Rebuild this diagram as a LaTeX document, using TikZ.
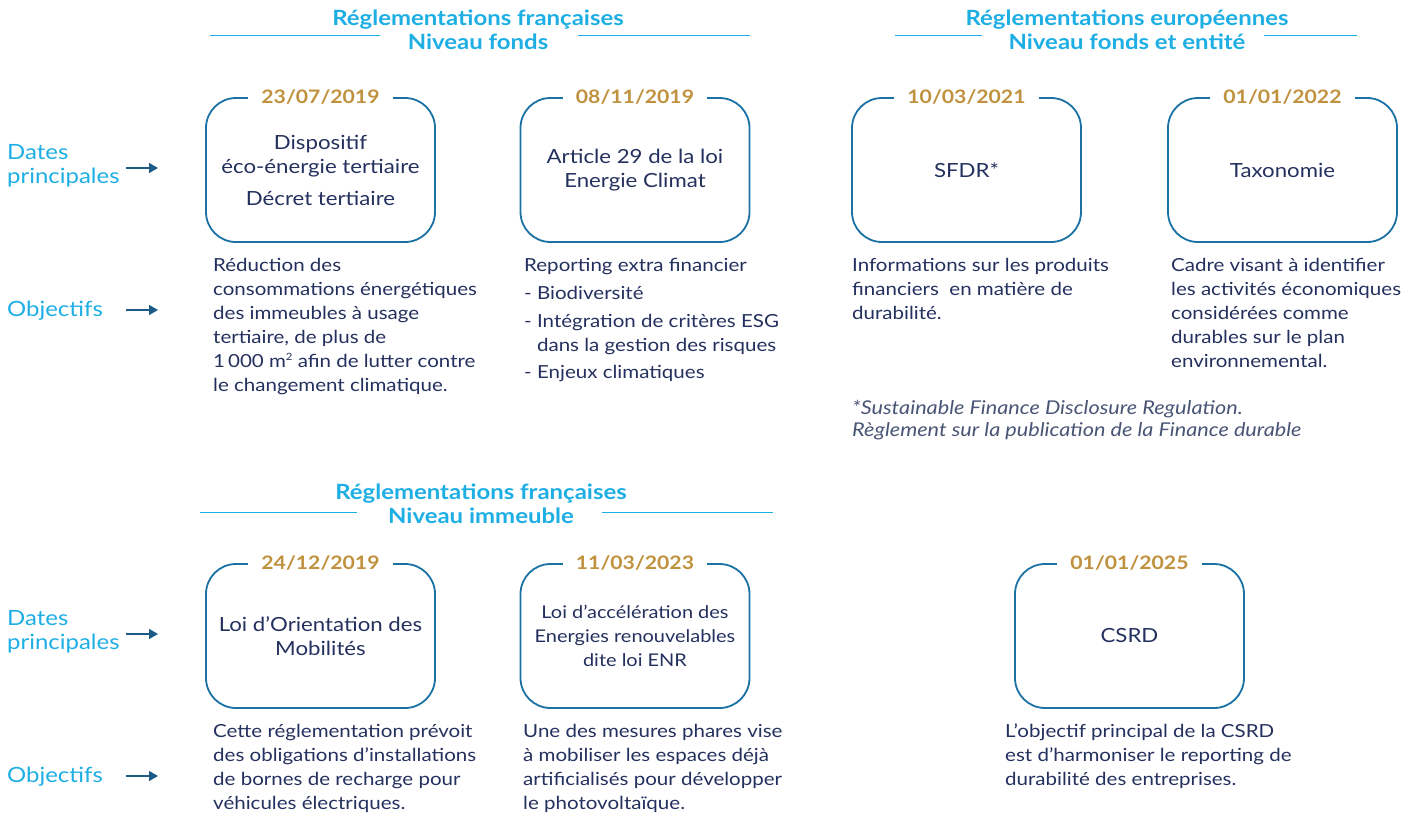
\documentclass[tikz,border=0pt]{standalone}
\usepackage{fontspec}
\setmainfont{Lato}[FakeStretch=1.14]
\usetikzlibrary{positioning,arrows.meta}
\definecolor{hdcyan}{HTML}{1DAEE4}
\definecolor{boxblue}{HTML}{1A72A4}
\definecolor{arrblue}{HTML}{1B5B85}
\definecolor{gold}{HTML}{C0923F}
\definecolor{navy}{HTML}{24305E}
\definecolor{notegray}{HTML}{4A5576}
\newcommand{\sqm}{m\raisebox{7pt}{\fontsize{10}{10}\selectfont 2}}
\tikzset{
  regbox/.style={draw=boxblue, line width=1.8pt, rounded corners=30pt, minimum width=229pt, minimum height=144pt, inner sep=0pt, align=center, text=navy, font=\fontsize{19.5}{24}\selectfont},
  datelbl/.style={fill=white, inner xsep=13pt, inner ysep=2pt, text=gold, font=\fontsize{18.6}{22}\selectfont\bfseries},
  desc/.style={anchor=north west, align=left, text=navy, inner sep=0pt, font=\fontsize{18}{24}\selectfont},
  sidelbl/.style={anchor=west, align=left, text=hdcyan, inner sep=0pt, font=\fontsize{21}{24}\selectfont},
  hdr/.style={align=center, text=hdcyan, inner sep=0pt, font=\fontsize{21}{24}\selectfont\bfseries},
  hrule/.style={draw=hdcyan, line width=1pt},
  arr/.style={-{Triangle[length=9pt,width=10pt]}, draw=arrblue, line width=1.4pt},
}
\begin{document}
\begin{tikzpicture}[x=1pt,y=-1pt]
  \useasboundingbox (0,0) rectangle (1414,816);

  % headers
  \node[hdr] (h1) at (478,30) {Réglementations françaises\\Niveau fonds};
  \draw[hrule] (210,36) -- (380,36); \draw[hrule] (578,36) -- (750,36);
  \node[hdr] (h2) at (1127,30) {Réglementations européennes\\Niveau fonds et entité};
  \draw[hrule] (895,36) -- (982,36); \draw[hrule] (1264,36) -- (1357,36);
  \node[hdr] (h3) at (481,504) {Réglementations françaises\\Niveau immeuble};
  \draw[hrule] (200,512) -- (357,512); \draw[hrule] (602,512) -- (773,512);

  % side labels
  \node[sidelbl] (dp1) at (7,166) {Dates\\principales};
  \node[sidelbl] (ob1) at (7,311) {Objectifs};
  \node[sidelbl] (dp2) at (7,632) {Dates\\principales};
  \node[sidelbl] (ob2) at (7,777) {Objectifs};
  \coordinate (dp1e) at (158,168); \coordinate (ob1e) at (158,310);
  \coordinate (dp2e) at (158,634); \coordinate (ob2e) at (158,776);
  \draw[arr] (126,168) -- (dp1e); \draw[arr] (126,310) -- (ob1e);
  \draw[arr] (126,634) -- (dp2e); \draw[arr] (126,776) -- (ob2e);

  % boxes
  \node[regbox] (b1) at (320.5,170) {Dispositif\\éco-énergie tertiaire\\[8pt]Décret tertiaire};
  \node[regbox] (b2) at (635,170) {Article 29 de la loi\\Energie Climat};
  \node[regbox] (b3) at (966.5,170) {SFDR*};
  \node[regbox] (b4) at (1282.5,170) {Taxonomie};
  \node[regbox] (b5) at (320.5,636) {Loi d’Orientation des\\Mobilités};
  \node[regbox, font=\fontsize{17.5}{24}\selectfont] (b6) at (635,636) {Loi d’accélération des\\Energies renouvelables\\dite loi ENR};
  \node[regbox] (b7) at (1129.5,636) {CSRD};

  % dates
  \node[datelbl] (d1) at (b1.north) {23/07/2019};
  \node[datelbl] (d2) at (b2.north) {08/11/2019};
  \node[datelbl] (d3) at (b3.north) {10/03/2021};
  \node[datelbl] (d4) at (b4.north) {01/01/2022};
  \node[datelbl] (d5) at (b5.north) {24/12/2019};
  \node[datelbl] (d6) at (b6.north) {11/03/2023};
  \node[datelbl] (d7) at (b7.north) {01/01/2025};

  % objectifs
  \node[desc] (o1) at (213,258) {Réduction des\\consommations énergétiques\\des immeubles à usage\\tertiaire, de plus de\\1\,000 \sqm{} afin de lutter contre\\le changement climatique.};
  \node[desc] (o2) at (524,258) {Reporting extra financier\\[4pt]- Biodiversité\\[4pt]- Intégration de critères ESG\\\phantom{- }dans la gestion des risques\\[3pt]- Enjeux climatiques};
  \node[desc] (o3) at (852,258) {Informations sur les produits\\financiers\ \ en matière de\\durabilité.};
  \node[desc] (o4) at (1171,258) {Cadre visant à identifier\\les activités économiques\\considérées comme\\durables sur le plan\\environnemental.};
  \node[desc, text=notegray, font=\fontsize{19}{22}\selectfont\itshape] (fn) at (852,400) {*Sustainable Finance Disclosure Regulation.\\Règlement sur la publication de la Finance durable};
  \node[desc] (o5) at (213,724) {Cette réglementation prévoit\\des obligations d’installations\\de bornes de recharge pour\\véhicules électriques.};
  \node[desc] (o6) at (523,724) {Une des mesures phares vise\\à mobiliser les espaces déjà\\artificialisés pour développer\\le photovoltaïque.};
  \node[desc] (o7) at (1005,724) {L’objectif principal de la CSRD\\est d’harmoniser le reporting de\\durabilité des entreprises.};
\end{tikzpicture}
\end{document}
